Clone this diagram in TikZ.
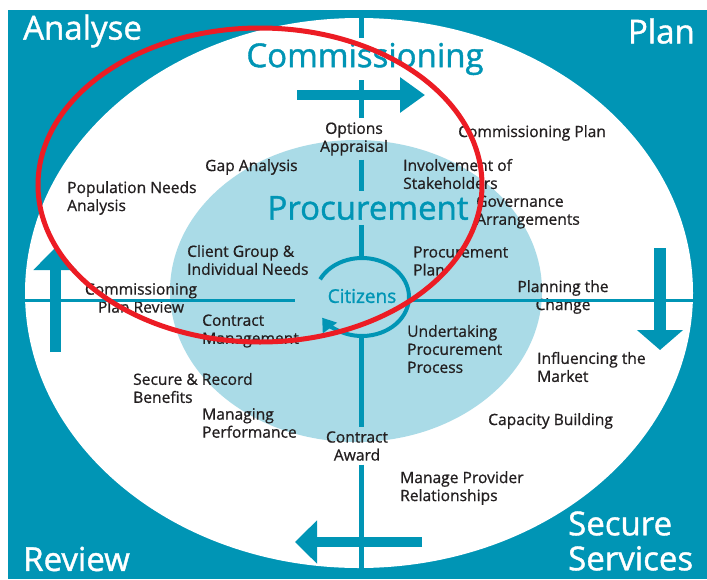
\documentclass[tikz,border=0pt]{standalone}
\usepackage{fontspec}
\setmainfont{Open Sans}
\newfontfamily\labelfont{Open Sans}[FakeBold=0.8]
\newfontfamily\titlefont{Open Sans}[FakeBold=1.2]
\usetikzlibrary{arrows.meta}
\definecolor{cycleteal}{RGB}{0,149,181}
\definecolor{cyclelight}{RGB}{170,219,231}
\definecolor{cyclered}{RGB}{236,28,36}
\definecolor{cycletext}{RGB}{35,31,32}
\tikzset{
every node/.style={inner sep=0pt},
task/.style={font=\labelfont\fontsize{15.6}{18}\selectfont, text=cycletext, anchor=west, align=left},
midtask/.style={task, anchor=center, align=center},
stage/.style={font=\titlefont\fontsize{33}{35}\selectfont, text=white, align=left},
phase/.style={font=\titlefont\fontsize{33}{34}\selectfont, text=cycleteal, outer sep=5pt},
axis/.style={cycleteal, line width=5pt},
thinaxis/.style={cycleteal, line width=3pt},
block/.style={cycleteal, line width=11pt, -{Triangle[length=22pt,width=42pt]}}
}

\begin{document}
\begin{tikzpicture}[x=1pt,y=-1pt]
\useasboundingbox (0,0) rectangle (707,579);
\fill[cycleteal] (8,10) rectangle (707,579);
\fill[white] (359,293) ellipse [x radius=334, y radius=275];
\fill[cyclelight] (356,291) ellipse [x radius=186, y radius=151];

\node[stage, anchor=west] (analyse) at (23,31) {Analyse};
\node[stage, anchor=east] (plan) at (695,31) {Plan};
\node[stage, anchor=west] (review) at (23,559) {Review};
\node[stage, anchor=west] (secure) at (568,541) {Secure\\Services};

\node[phase] (comm) at (365,59) {Commissioning};
\node[phase] (proc) at (368,208) {Procurement};
\node[font=\titlefont\fontsize{19}{22}\selectfont, text=cycleteal] (cit) at (362,296) {Citizens};

\node[task] (pop) at (67,198) {Population Needs\\Analysis};
\node[task] (gap) at (205,167) {Gap Analysis};
\node[midtask, outer sep=4pt] (opt) at (354,139) {Options\\Appraisal};
\node[task] (complan) at (458,133) {Commissioning Plan};
\node[task] (stake) at (403,174) {Involvement of\\Stakeholders};
\node[task] (gov) at (476,212) {Governance\\Arrangements};
\node[task] (client) at (187,260) {Client Group \&\\Individual Needs};
\node[task] (pplan) at (413,261) {Procurement\\Plan};
\node[midtask] (change) at (563,297) {Planning the\\Change};
\node[midtask] (cpr) at (141,298) {Commissioning\\Plan Review};
\node[task] (cman) at (202,331) {Contract\\Management};
\node[task] (under) at (407,349) {Undertaking\\Procurement\\Process};
\node[task] (market) at (537,367) {Influencing the\\Market};
\node[task] (benef) at (133,388) {Secure \& Record\\Benefits};
\node[task] (perf) at (202,423) {Managing\\Performance};
\node[midtask, outer sep=4pt] (award) at (357,446) {Contract\\Award};
\node[task] (capac) at (488,421) {Capacity Building};
\node[task] (provider) at (400,488) {Manage Provider\\Relationships};

\coordinate (top) at (361,10);
\coordinate (bottom) at (361,579);
\coordinate (left) at (25,300);
\coordinate (right) at (693,300);
\coordinate (ringN) at (361,258);
\coordinate (ringS) at (361,336);
\coordinate (ringW) at (295,300);
\coordinate (ringE) at (409,300);

\draw[axis] (top) -- (top |- comm.north);
\draw[axis] (top |- comm.south) -- (top |- opt.north);
\draw[axis] (top |- opt.south) -- (top |- proc.north);
\draw[axis] (top |- proc.south) -- (ringN);
\draw[axis] (ringS) -- (top |- award.north);
\draw[axis] (top |- award.south) -- (bottom);
\draw[thinaxis] (left) -- (ringW);
\draw[thinaxis] (ringE) -- (right);
\draw[cycleteal, line width=4pt, -{Triangle[length=13pt,width=17pt]}] (362,297) ++(207:47 and 39)
  arc[start angle=207, end angle=508, x radius=47, y radius=39];

\draw[block, -{Triangle[length=25pt,width=34pt]}, line width=10pt] (297,95) -- (425,95);
\draw[block, line width=10pt] (422,542) -- (295,542);
\draw[block] (55,352) -- (55,248);
\draw[block, line width=12pt, -{Triangle[length=20pt,width=45pt]}] (660,248) -- (660,350);

\draw[cyclered, line width=5pt] (260,185) ellipse [x radius=222, y radius=157];
\end{tikzpicture}
\end{document}
